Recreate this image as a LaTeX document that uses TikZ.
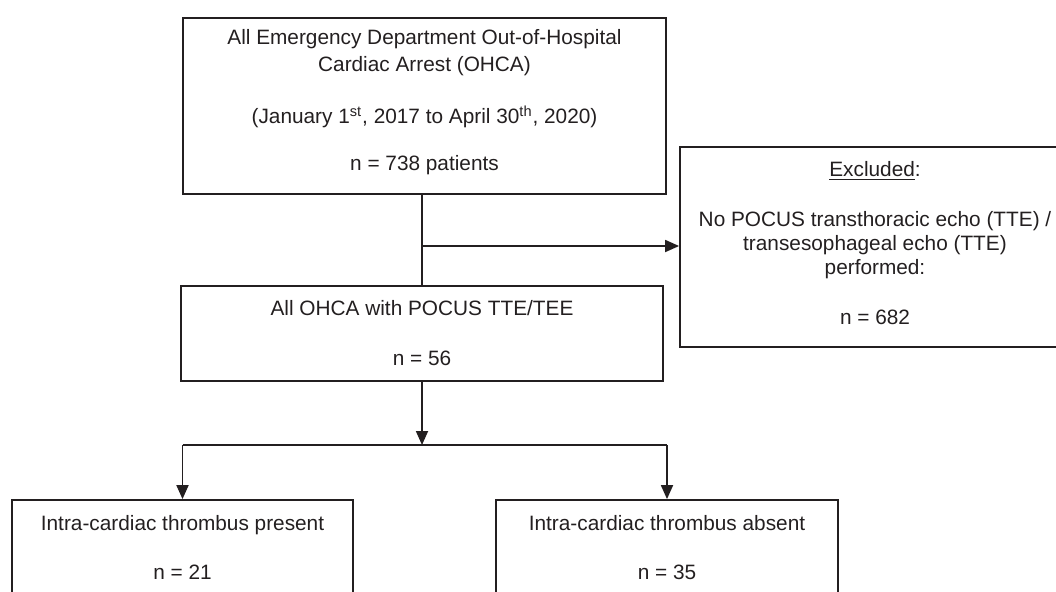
\documentclass[tikz,border=0pt]{standalone}
\usepackage{fontspec}
\setmainfont{Liberation Sans}
\usepackage{tikz}
\usetikzlibrary{arrows.meta}
\definecolor{inkline}{RGB}{35,31,32}
\tikzset{
  flowbox/.style={
    rectangle, draw=inkline, line width=0.9pt, inner sep=0pt,
    align=center, text=inkline, font=\fontsize{10.4}{13.5}\selectfont
  },
  flowline/.style={draw=inkline, line width=0.9pt},
  flowarrow/.style={flowline, -{Triangle[length=7pt, width=6pt]}},
}

\begin{document}
\begin{tikzpicture}[x=0.5pt, y=-0.5pt]
  \useasboundingbox (0,0) rectangle (1056,591);
  \clip (0,0) rectangle (1056,591);

  \node[flowbox, minimum width=241.5pt, minimum height=88pt, text depth=6pt] (all) at (424.5,106)
    {All Emergency Department Out-of-Hospital\\Cardiac Arrest (OHCA)\\[12.5pt]
     (January 1\textsuperscript{st}, 2017 to April 30\textsuperscript{th}, 2020)\\[10pt]
     n = 738 patients};
  \node[flowbox, minimum width=241pt, minimum height=47.5pt] (pocus) at (422,333.5)
    {All OHCA with POCUS TTE/TEE\\[11.5pt]n = 56};
  \node[flowbox, minimum width=195pt, minimum height=100pt,
        font=\fontsize{10.4}{12}\selectfont, text depth=4pt] (excl) at (875,247)
    {\underline{Excluded}:\\[13pt]
     No POCUS transthoracic echo (TTE) /\\transesophageal echo (TTE)\\performed:\\[13pt]
     n = 682};
  \node[flowbox, minimum width=170.5pt, minimum height=47.5pt] (present) at (182.5,547.5)
    {Intra-cardiac thrombus present\\[11pt]n = 21};
  \node[flowbox, minimum width=171pt, minimum height=47.5pt] (absent) at (667,547.5)
    {Intra-cardiac thrombus absent\\[11pt]n = 35};

  \coordinate (branch) at (422,246);
  \coordinate (split) at (422,445);

  % exclusion branch
  \draw[flowline] (all.south -| pocus.north) -- (pocus.north);
  \draw[flowarrow] (branch) -- (excl.west |- branch);

  % split into the two groups
  \draw[flowarrow] (pocus.south) -- (split);
  \draw[flowline] (present.north |- split) -- (absent.north |- split);
  \draw[flowarrow] (present.north |- split) -- (present.north);
  \draw[flowarrow] (absent.north |- split) -- (absent.north);
\end{tikzpicture}
\end{document}
